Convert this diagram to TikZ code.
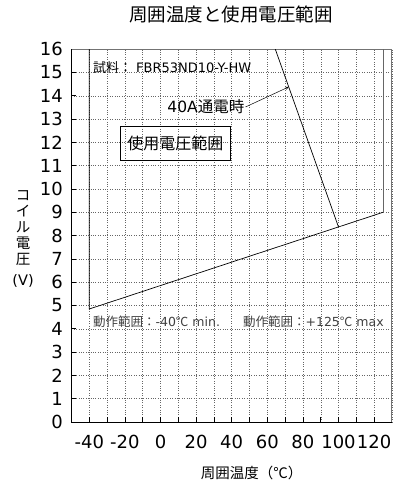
\documentclass[tikz,border=0pt]{standalone}
\usepackage{fontspec}
\setmainfont{DejaVu Sans}
\newfontfamily\jp{Noto Sans CJK JP}

\tikzset{
  numlabel/.style={font=\fontsize{18}{20}\selectfont, inner sep=0pt},
  axislabel/.style={font=\fontsize{14.5}{16}\selectfont, inner sep=0pt},
  note/.style={font=\fontsize{12.5}{14}\selectfont, inner sep=0pt, anchor=west}
}

\begin{document}
\begin{tikzpicture}[x=1.78pt, y=23.3pt]

\useasboundingbox (-160.5pt,-63pt) rectangle (232.5pt,422pt);

\draw [dotted, black!60] (-50,0) grid [xstep=10, ystep=1] (130,16);

\draw [black!55, line width=0.9pt] (-50,16) -- (130,16) -- (130,0);
\draw [black, line width=0.8pt] (-50,16) -- (-50,0) -- (130,0);
\draw [black, line width=0.6pt] (-45,0) grid [xstep=10, ystep=1] (125,0.22);
\foreach \v in {1,...,15}
  \draw [black, line width=0.6pt] (-50,\v) -- ++(2.8,0);

\coordinate (A) at (-40,4.85);
\coordinate (B) at (-40,16);
\coordinate (C) at (125,9);
\coordinate (D) at (125,16);
\coordinate (E) at (100,8.37);
\coordinate (F) at (64.5,16);
\coordinate (G) at (72,14.38);

\draw [line width=0.7pt] (B) -- (A) -- (C);
\draw [black!60, line width=0.9pt] (C) -- (D);
\draw [line width=0.7pt] (E) -- (F);

\node [font=\jp\fontsize{18.5}{20}\selectfont] (title) at (39.6,17.47) {周囲温度と使用電圧範囲};

\node [note, font=\fontsize{13}{14}\selectfont] (sample) at (-38,15.19) {{\jp 試料：}\ FBR53ND10-Y-HW};
\node [font=\fontsize{15.5}{18}\selectfont, inner sep=1pt] (current) at (25.5,13.52) {40A{\jp 通電時}};
\draw [-stealth, line width=0.5pt] (current.east) -- (G);
\node [draw, line width=0.6pt, font=\jp\fontsize{16}{18}\selectfont,
       minimum width=110pt, minimum height=34pt] (range) at (8.3,11.97) {使用電圧範囲};

\node [note, black!75] (tmin) at (-38,4.29) {{\jp 動作範囲：}-40{\jp ℃} min.};
\node [note, black!75] (tmax) at (46.3,4.29) {{\jp 動作範囲：}+125{\jp ℃} max};

\node [numlabel, anchor=east] (y0) at (-54.8,0) {0};
\node [numlabel, anchor=east] (y1) at (-54.8,1) {1};
\node [numlabel, anchor=east] (y2) at (-54.8,2) {2};
\node [numlabel, anchor=east] (y3) at (-54.8,3) {3};
\node [numlabel, anchor=east] (y4) at (-54.8,4) {4};
\node [numlabel, anchor=east] (y5) at (-54.8,5) {5};
\node [numlabel, anchor=east] (y6) at (-54.8,6) {6};
\node [numlabel, anchor=east] (y7) at (-54.8,7) {7};
\node [numlabel, anchor=east] (y8) at (-54.8,8) {8};
\node [numlabel, anchor=east] (y9) at (-54.8,9) {9};
\node [numlabel, anchor=east] (y10) at (-54.8,10) {10};
\node [numlabel, anchor=east] (y11) at (-54.8,11) {11};
\node [numlabel, anchor=east] (y12) at (-54.8,12) {12};
\node [numlabel, anchor=east] (y13) at (-54.8,13) {13};
\node [numlabel, anchor=east] (y14) at (-54.8,14) {14};
\node [numlabel, anchor=east] (y15) at (-54.8,15) {15};
\node [numlabel, anchor=east] (y16) at (-54.8,16) {16};

\node [numlabel] (xm40) at (-40,-0.845) {-40};
\node [numlabel] (xm20) at (-20,-0.845) {-20};
\node [numlabel] (x0) at (0,-0.845) {0};
\node [numlabel] (x20) at (20,-0.845) {20};
\node [numlabel] (x40) at (40,-0.845) {40};
\node [numlabel] (x60) at (60,-0.845) {60};
\node [numlabel] (x80) at (80,-0.845) {80};
\node [numlabel] (x100) at (100,-0.845) {100};
\node [numlabel] (x120) at (120,-0.845) {120};

\node [axislabel, align=center] (ylabel) at (-77.2,7.85) {{\jp コ}\\{\jp イ}\\{\jp ル}\\{\jp 電}\\{\jp 圧}\\[5pt](V)};
\node [axislabel, font=\jp\fontsize{14.5}{16}\selectfont] (xlabel) at (51.2,-2.19) {周囲温度（℃）};

\end{tikzpicture}
\end{document}
